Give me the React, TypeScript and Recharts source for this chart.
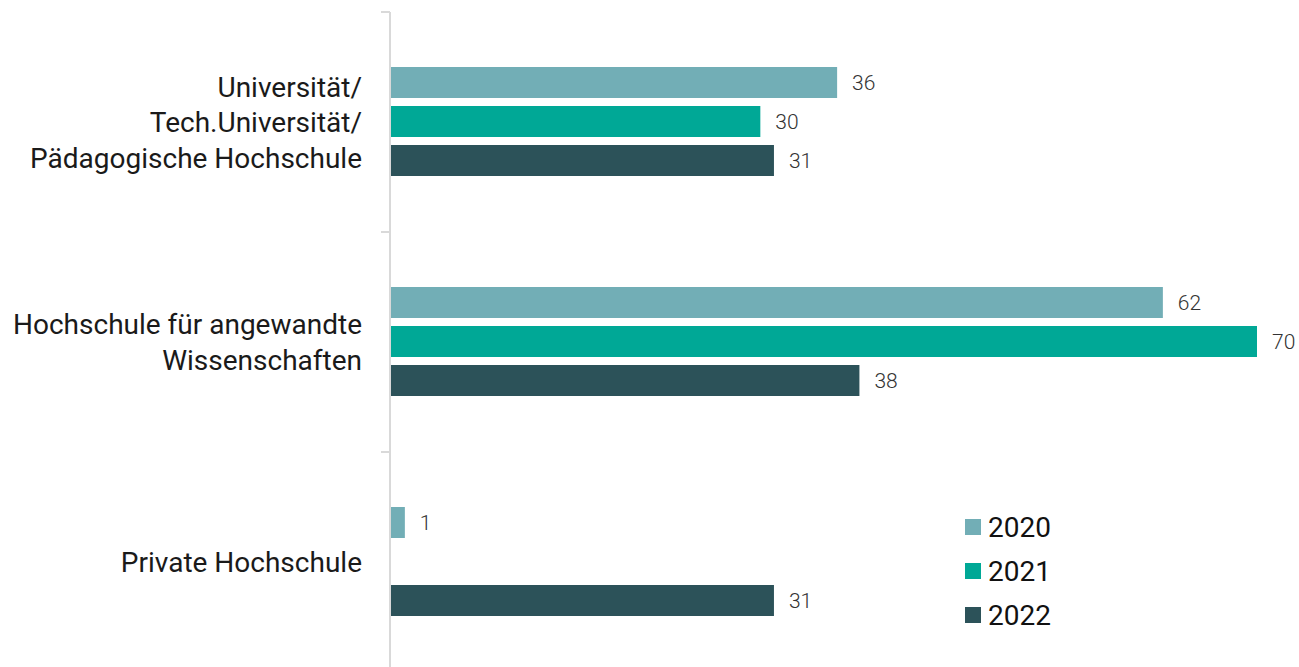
import { BarChart, Bar, XAxis, YAxis, LabelList } from 'recharts';

const categories = [
  'Universität/\nTech.Universität/\nPädagogische Hochschule',
  'Hochschule für angewandte\nWissenschaften',
  'Private Hochschule',
];
const years = ['2020', '2021', '2022'];
const values2020 = [36.1, 62.4, 1.2];
const values2021: (number | null)[] = [29.9, 70, null];
const values2022 = [31, 37.9, 31];
const colors = ['#72aeb6', '#00a896', '#2c5259'];

const data = categories.map((name, i) => ({
  name,
  y2020: values2020[i],
  y2021: values2021[i],
  y2022: values2022[i],
}));

const TICK = 9;
const MARGIN = 19;

function CatTick(props: any) {
  const { x, y, payload } = props;
  const lines = String(payload.value).split('\n');
  const lh = 35.5;
  const axisX = x + TICK + MARGIN;
  const top = y - (payload.offset || 0);
  return (
    <g>
      <line x1={axisX - TICK} x2={axisX} y1={top} y2={top} stroke="#d9d9d9" strokeWidth={2} />
      <text x={x} y={y} textAnchor="end" fontSize={28} fill="#1a1a1a" fontFamily="Roboto">
        {lines.map((l, i) => (
          <tspan key={i} x={x} dy={i === 0 ? -((lines.length - 1) * lh) / 2 + 10 : lh}>
            {l}
          </tspan>
        ))}
      </text>
    </g>
  );
}

function LegendBox() {
  return (
    <div style={{ position: 'absolute', left: 965, top: 505, fontFamily: 'Roboto', fontSize: 28, color: '#111' }}>
      {years.map((y, i) => (
        <div key={y} style={{ display: 'flex', alignItems: 'center', height: 44 }}>
          <span style={{ width: 16, height: 16, background: colors[i], marginRight: 7, display: 'inline-block' }} />
          {y}
        </div>
      ))}
    </div>
  );
}

const fmt = (v: any) => (v == null ? '' : Math.round(Number(v)));

export default function App() {
  return (
    <div style={{ position: 'absolute', left: 0, top: 0, width: 1299, height: 667, overflow: 'hidden' }}>
      <BarChart
        width={1299}
        height={672}
        data={data}
        layout="vertical"
        margin={{ top: 12, right: 42, bottom: 0, left: 0 }}
        barCategoryGap="25%"
        barGap={8}
      >
        <XAxis type="number" domain={[0, 70]} hide />
        <YAxis
          type="category"
          dataKey="name"
          width={390}
          axisLine={{ stroke: '#d9d9d9', strokeWidth: 2 }}
          tickLine={false}
          tickSize={TICK}
          tickMargin={MARGIN}
          tick={<CatTick />}
          interval={0}
        />
        {['y2020', 'y2021', 'y2022'].map((k, i) => (
          <Bar key={k} dataKey={k} name={years[i]} fill={colors[i]} isAnimationActive={false}>
            <LabelList dataKey={k} position="right" offset={15} formatter={fmt} fill="#333333" fontSize={21} fontFamily="Roboto" fontWeight={300} />
          </Bar>
        ))}
      </BarChart>
      <LegendBox />
    </div>
  );
}
